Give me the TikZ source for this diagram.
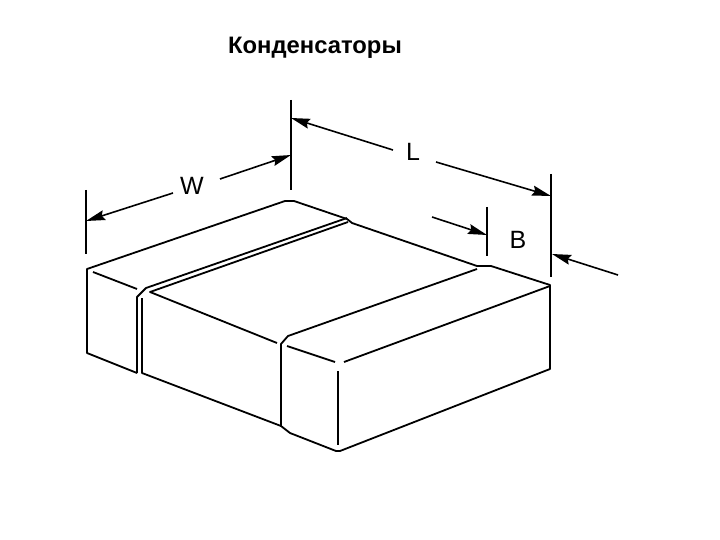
\documentclass[tikz,border=0pt]{standalone}
\usepackage{fontspec}
\setmainfont{Liberation Sans}
\usetikzlibrary{arrows.meta}
\tikzset{
	body/.style={line width=1.8pt,line join=round},
	dimline/.style={line width=1.8pt},
	dimarrow/.style={line width=1.6pt,-{Stealth[length=19pt,width=10pt,inset=2.5pt]}},
	dimlabel/.style={font=\fontsize{25}{25}\selectfont,inner sep=0pt},
}
\begin{document}
\begin{tikzpicture}[x=1pt,y=-1pt]
	   \useasboundingbox (0,0) rectangle (720,540);
	   \node[font=\bfseries\fontsize{23.8}{24}\selectfont,inner sep=0pt] (title) at (315,48) {Конденсаторы};
	   \node[dimlabel] (w) at (192,186) {W};
	   \node[dimlabel] (l) at (413,152) {L};
	   \node[dimlabel] (b) at (518,240) {B};
	   % extension lines
	   \coordinate (w_1) at (86,221);
	   \coordinate (w_2) at (291,155);
	   \coordinate (l_1) at (291,118);
	   \coordinate (l_2) at (551,196);
	   \coordinate (b_1) at (487,235);
	   \coordinate (b_2) at (552,254);
	   \draw[dimline] (86,190) -- (86,254);
	   \draw[dimline] (291,100) -- (291,190);
	   \draw[dimline] (551,174) -- (551,277);
	   \draw[dimline] (487,207) -- (487,256);
	   % arrows
	   \coordinate (w_a) at (173,193);
	   \coordinate (w_b) at (220,179);
	   \coordinate (l_a) at (393,150);
	   \coordinate (l_b) at (436,162);
	   \coordinate (b_a) at (432,217);
	   \coordinate (b_b) at (618,275);
	   \draw[dimarrow] (w_a) -- (w_1);
	   \draw[dimarrow] (w_b) -- (w_2);
	   \draw[dimarrow] (l_a) -- (l_1);
	   \draw[dimarrow] (l_b) -- (l_2);
	   \draw[dimarrow] (b_a) -- (b_1);
	   \draw[dimarrow] (b_b) -- (b_2);
	   % outline
	   \draw[body] (137,373) -- (87,353) -- (87,269) -- (285,201) -- (294,201) -- (347,219) -- (352,223) -- (477,266) -- (491,266) -- (550,285) -- (550,369) -- (340,451) -- (336,451) -- (290,433) -- (281,426) -- (281,344) -- (288,336) -- (477,269);
	   \draw[body] (93,272) -- (137,289);
	   \draw[body] (137,373) -- (137,297) -- (146,288) -- (347,218);
	   \draw[body] (142,298) -- (142,373) -- (281,426);
	   \draw[body] (348,222) -- (150,292) -- (277,343);
	   % end cap
	   \draw[body] (287,346) -- (335,362);
	   \draw[body] (344,362) -- (550,286);
	   \draw[body] (338,371) -- (338,445);
	\end{tikzpicture}
\end{document}
